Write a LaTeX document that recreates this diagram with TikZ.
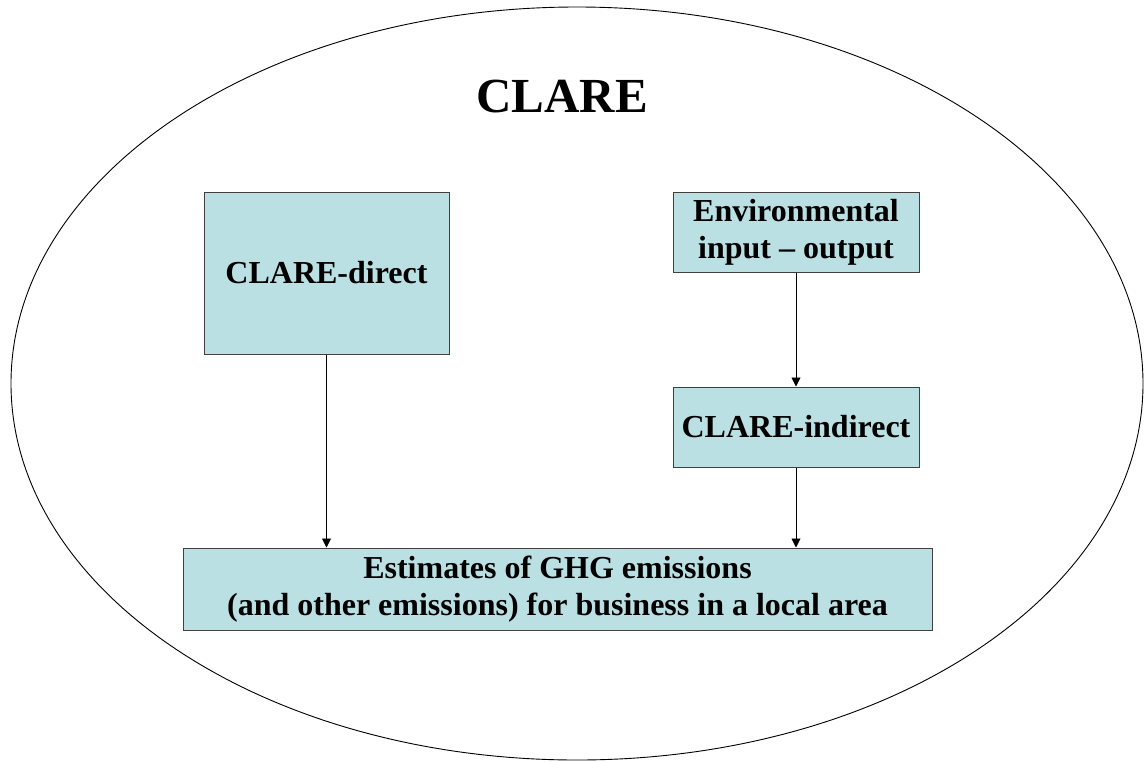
\documentclass[tikz,border=0pt]{standalone}
\usepackage{fontspec}
\setmainfont{Liberation Serif}
\usepackage{tikz}
\usetikzlibrary{positioning,arrows.meta}
\definecolor{boxfill}{HTML}{BBE0E3}
\definecolor{boxline}{HTML}{404040}

\begin{document}
\begin{tikzpicture}[x=1pt, y=-1pt,
                    every node/.style={inner sep=0pt, align=center,
                                       font=\fontsize{32}{37}\selectfont\bfseries},
                    clarebox/.style={draw=boxline, fill=boxfill, line width=1pt},
                    flow/.style={-{Triangle[width=9pt,length=9pt]}, line width=0.9pt}]
    \useasboundingbox (0,0) rectangle (1145,761);
    \draw[line width=0.9pt] (577,383.5) ellipse [x radius=566pt, y radius=376.5pt];
    \node (title) at (562,97) {\fontsize{49}{56}\selectfont\bfseries CLARE};
    \node (direct)[clarebox, minimum width=245pt, minimum height=162pt] at (326.5,273) {CLARE-direct};
    \node (env)[clarebox, minimum width=246pt, minimum height=80pt] at (796,232) {Environmental\\input -- output};
    \node (indirect)[clarebox, minimum width=246pt, minimum height=80pt, below=114pt of env] {CLARE-indirect};
    \node (est)[clarebox, minimum width=749pt, minimum height=82pt] at (557.5,589)
        {Estimates of GHG emissions\\(and other emissions) for business in a local area};
    \draw[flow] (env) -- (indirect);
    \draw[flow] (direct) -- (direct |- est.north);
    \draw[flow] (indirect) -- (indirect |- est.north);
  \end{tikzpicture}
\end{document}
